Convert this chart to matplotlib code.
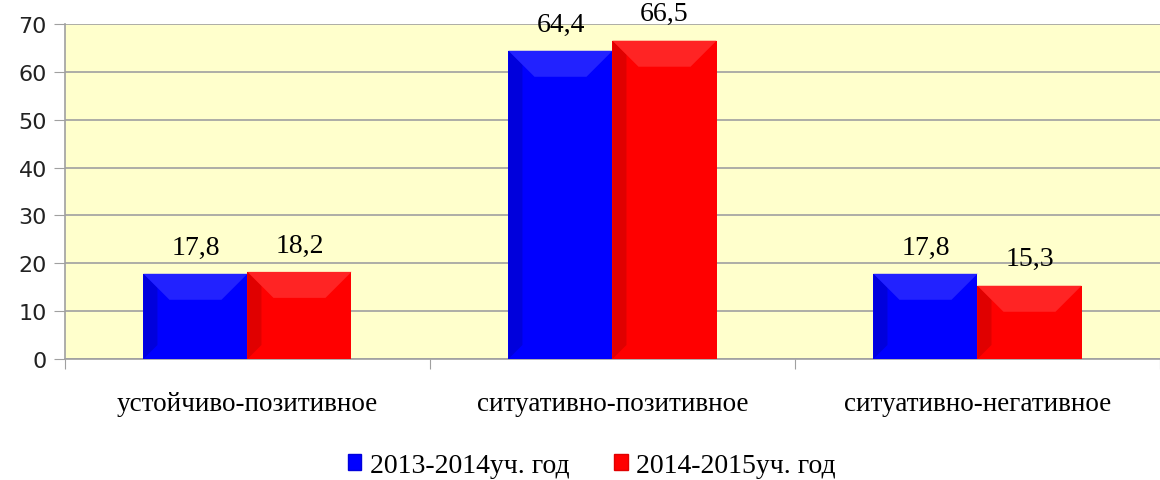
import matplotlib
matplotlib.use("Agg")
import matplotlib.pyplot as plt
from matplotlib.patches import Polygon, Patch
import numpy as np

categories = ["устойчиво-позитивное", "ситуативно-позитивное", "ситуативно-негативное"]
series_names = ["2013-2014уч. год", "2014-2015уч. год"]
values_2013 = [17.8, 64.4, 17.8]
values_2014 = [18.2, 66.5, 15.3]
value_labels_2013 = ["17,8", "64,4", "17,8"]
value_labels_2014 = ["18,2", "66,5", "15,3"]
colors = ["#0000FF", "#FF0000"]
dark = ["#0000DC", "#E00000"]
light = ["#2222FF", "#FF2424"]

fig = plt.figure(figsize=(11.6, 4.81), dpi=100)
ax = fig.add_axes([0.056, 0.2516, 0.944, 0.6965])
ax.set_facecolor("#FFFFCC")

x = np.arange(len(categories))
w = 0.285
serif = ["Liberation Serif", "DejaVu Serif"]

ax.set_xlim(-0.5, len(categories) - 0.5)
ax.set_ylim(0, 70)

# pixel->data conversion for bevel sizes
ax_w_px = 0.944 * 1160
ax_h_px = 0.6965 * 481
px_x = 3.0 / ax_w_px
px_y = 70.0 / ax_h_px

for vals, labels, c, d, l, off in [(values_2013, value_labels_2013, colors[0], dark[0], light[0], -w/2),
                                  (values_2014, value_labels_2014, colors[1], dark[1], light[1], w/2)]:
    bars = ax.bar(x + off, vals, width=w, color=c, zorder=3, edgecolor="none")
    for b, lab in zip(bars, labels):
        bx, by, bw, bh = b.get_x(), b.get_y(), b.get_width(), b.get_height()
        bev_px = min(26, bh / px_y / 2)
        bx_ = bev_px * px_x
        by_ = bev_px * px_y
        lx = 14 * px_x
        ly = min(by_, 14 * px_y)
        # left bevel (dark)
        ax.add_patch(Polygon([(bx, by), (bx + lx, by + ly), (bx + lx, by + bh - ly), (bx, by + bh)],
                             closed=True, color=d, zorder=4, lw=0))
        # top bevel (light)
        ax.add_patch(Polygon([(bx, by + bh), (bx + bx_, by + bh - by_), (bx + bw - bx_, by + bh - by_), (bx + bw, by + bh)],
                             closed=True, color=l, zorder=4, lw=0))
        ax.text(bx + bw / 2, bh + 3.0, lab, ha="center", va="bottom", fontsize=20, family=serif, zorder=5)

ax.set_yticks(np.arange(0, 71, 10))
ax.yaxis.grid(True, color="#A0A0A0", lw=1.2, zorder=0)
ax.set_axisbelow(True)
ax.tick_params(axis="y", labelsize=16, length=8, color="#A0A0A0", pad=5, labelcolor="#222222")
ax.set_xticks(np.arange(-0.5, len(categories), 1.0))
ax.set_xticklabels([])
ax.tick_params(axis="x", length=7, color="#A0A0A0")
for xi, cat in zip(x, categories):
    ax.text(xi, -9.2, cat, ha="center", va="center", fontsize=19.5, family=serif)
for s in ["top", "right"]:
    ax.spines[s].set_visible(False)
for s in ["left", "bottom"]:
    ax.spines[s].set_color("#A0A0A0")
    ax.spines[s].set_linewidth(1.2)

handles = [Patch(facecolor=colors[0], edgecolor=dark[0]), Patch(facecolor=colors[1], edgecolor=dark[1])]
fig.legend(handles, series_names, loc="center", bbox_to_anchor=(0.51, 0.03), ncol=2, frameon=False,
           prop={"family": serif, "size": 20}, handlelength=0.5, handleheight=0.5, handletextpad=0.3,
           columnspacing=1.6)

fig.savefig("out.png", dpi=100)
